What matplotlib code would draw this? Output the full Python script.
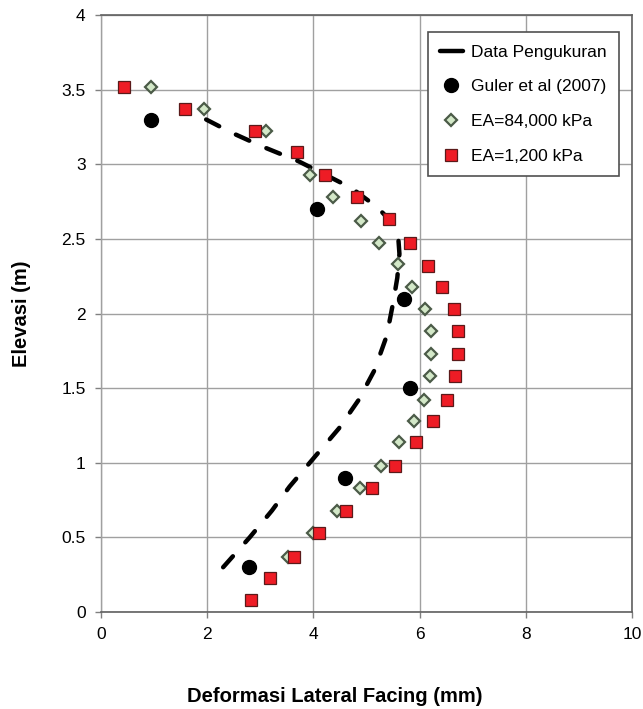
import matplotlib
matplotlib.use('Agg')
import matplotlib.pyplot as plt
from matplotlib.lines import Line2D
import numpy as np

# ─── Data ──────────────────────────────────────────────────────────
# Data Pengukuran (measured, dashed line)
meas_x = [1.98, 2.47, 3.03, 3.72, 4.28, 4.72, 5.21, 5.45, 5.60, 5.62, 5.58,
          5.50, 5.38, 5.15, 4.85, 4.48, 4.05, 3.55, 3.22, 2.80, 2.30]
meas_y = [3.30, 3.21, 3.12, 3.02, 2.92, 2.84, 2.71, 2.62, 2.50, 2.40, 2.24,
          2.07, 1.85, 1.62, 1.42, 1.23, 1.05, 0.84, 0.68, 0.50, 0.30]

# Guler et al (2007)
guler_x = [0.95, 4.07, 5.71, 5.81, 4.59, 2.79]
guler_y = [3.30, 2.70, 2.10, 1.50, 0.90, 0.30]

# EA = 84,000 kPa
ea84_x = [0.95, 1.94, 3.10, 3.93, 4.36, 4.90, 5.23, 5.59, 5.85, 6.11, 6.21,
          6.21, 6.19, 6.09, 5.89, 5.61, 5.27, 4.88, 4.45, 4.00, 3.53]
ea84_y = [3.52, 3.37, 3.22, 2.93, 2.78, 2.62, 2.47, 2.33, 2.18, 2.03, 1.88,
          1.73, 1.58, 1.42, 1.28, 1.14, 0.98, 0.83, 0.68, 0.53, 0.37]

# EA = 1,200 kPa
ea12_x = [0.43, 1.59, 2.90, 3.70, 4.21, 4.82, 5.42, 5.81, 6.15, 6.43, 6.65,
          6.73, 6.73, 6.67, 6.52, 6.26, 5.93, 5.53, 5.10, 4.62, 4.11, 3.63,
          3.18, 2.82]
ea12_y = [3.52, 3.37, 3.22, 3.08, 2.93, 2.78, 2.63, 2.47, 2.32, 2.18, 2.03,
          1.88, 1.73, 1.58, 1.42, 1.28, 1.14, 0.98, 0.83, 0.68, 0.53, 0.37,
          0.23, 0.08]

x_ticks = [0, 2, 4, 6, 8, 10]
y_ticks = [0, 0.5, 1, 1.5, 2, 2.5, 3, 3.5, 4]
y_tick_labels = ['0', '0.5', '1', '1.5', '2', '2.5', '3', '3.5', '4']

# ─── Settings ──────────────────────────────────────────────────────
matplotlib.rcParams.update({
    'font.family': ['Liberation Sans', 'DejaVu Sans'],
    'font.size': 12.5,
})

DPI = 100
LW = 3.2

fig = plt.figure(figsize=(6.43, 7.09), dpi=DPI)
ax = fig.add_axes([0.1571, 0.1368, 0.9829 - 0.1571, 0.9788 - 0.1368])
ax.set_xlim(0, 10)
ax.set_ylim(0, 4)

# fit the dash period so the curve ends on a dash (like the original)
pts = ax.transData.transform(np.column_stack([meas_x, meas_y]))
path_len = np.sum(np.hypot(*np.diff(pts, axis=0).T))   # pixels
unit = LW * DPI / 72.0                                  # 1 dash unit in px
on = 3.3
period = (path_len / unit - on)
n = max(1, round(period / (3.3 + 4.4)))
off = period / n - on

# measured curve
ax.plot(meas_x, meas_y, color='black', linewidth=LW, linestyle=(0, (on, off)),
        dash_capstyle='round', solid_capstyle='round', zorder=3,
        label='Data Pengukuran')

# Guler et al
ax.plot(guler_x, guler_y, 'o', color='black', markersize=10, zorder=4,
        label='Guler et al (2007)')

# EA=84,000
ax.plot(ea84_x, ea84_y, 'D', markersize=6.2, markerfacecolor='#d3e8c8',
        markeredgecolor='#4b5b48', markeredgewidth=1.6, linestyle='none',
        zorder=5, label='EA=84,000 kPa')

# EA=1,200
ax.plot(ea12_x, ea12_y, 's', markersize=8.8, markerfacecolor='#ee1c25',
        markeredgecolor='#5a1a1a', markeredgewidth=0.9, linestyle='none',
        zorder=6, label='EA=1,200 kPa')

ax.set_xticks(x_ticks)
ax.set_yticks(y_ticks)
ax.set_yticklabels(y_tick_labels)
ax.tick_params(direction='out', length=4, width=1, color='#808080',
               labelsize=12.5, pad=7)
ax.grid(True, color='#a0a0a0', linewidth=1)
ax.set_axisbelow(True)

for side in ['top', 'right', 'bottom']:
    ax.spines[side].set_color('#606060')
    ax.spines[side].set_linewidth(1.2)
ax.spines['left'].set_color('#a0a0a0')
ax.spines['left'].set_linewidth(1)

ax.set_xlabel('Deformasi Lateral Facing (mm)', fontsize=14.5, fontweight='bold')
ax.set_ylabel('Elevasi (m)', fontsize=14.5, fontweight='bold')
ax.xaxis.set_label_coords(0.44, -0.126)
ax.yaxis.set_label_coords(-0.131, 0.5)

# legend with short single dash for the measured line
handles, labels = ax.get_legend_handles_labels()
handles[0] = Line2D([0], [0], color='black', linewidth=LW,
                    solid_capstyle='round')
leg = ax.legend(handles, labels, loc='upper right', bbox_to_anchor=(0.9755, 0.971),
                fontsize=12.5, frameon=True, fancybox=False, framealpha=1,
                edgecolor='#505050', handlelength=1.3, handletextpad=0.5,
                labelspacing=1.13, borderpad=0.7, borderaxespad=0)
leg.get_frame().set_linewidth(1.2)

fig.savefig('out.png', dpi=DPI)
